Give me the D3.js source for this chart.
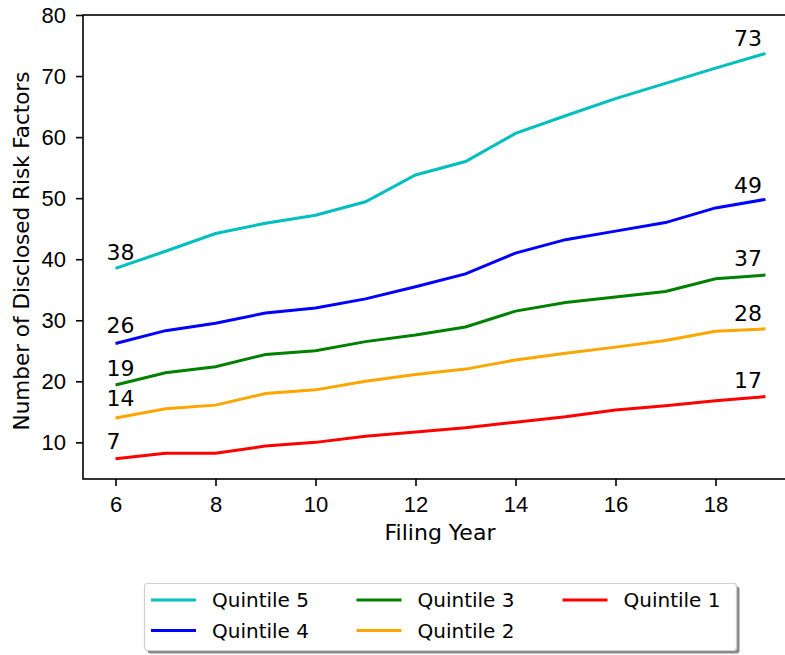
<!DOCTYPE html>
<html>
<head>
<meta charset="utf-8">
<script src="https://cdn.jsdelivr.net/npm/d3@7"></script>
<style>
  body { margin: 0; background: #fff; }
  svg { display: block; font-family: "DejaVu Sans", sans-serif; }
  .axis path, .axis line { stroke: #000; stroke-width: 1.6; }
  .axis text { fill: #000; }
</style>
</head>
<body>
<div id="chart"></div>
<script>
// Filing years on the x axis
const years = [6, 7, 8, 9, 10, 11, 12, 13, 14, 15, 16, 17, 18, 19];

// Average number of disclosed risk factors, per quintile
const quintile5 = [38.5, 41.3, 44.2, 45.9, 47.2, 49.4, 53.8, 56.0, 60.6, 63.5, 66.3, 68.8, 71.3, 73.7];
const quintile4 = [26.2, 28.3, 29.5, 31.2, 32.0, 33.5, 35.5, 37.6, 41.0, 43.2, 44.6, 46.0, 48.4, 49.8];
const quintile3 = [19.4, 21.4, 22.4, 24.4, 25.0, 26.5, 27.6, 28.9, 31.5, 32.9, 33.8, 34.7, 36.8, 37.4];
const quintile2 = [14.0, 15.5, 16.1, 18.0, 18.6, 20.0, 21.1, 22.0, 23.5, 24.6, 25.6, 26.7, 28.2, 28.6];
const quintile1 = [7.3, 8.2, 8.2, 9.4, 10.0, 11.0, 11.7, 12.4, 13.3, 14.2, 15.3, 16.0, 16.8, 17.5];

const seriesNames = ['Quintile 5', 'Quintile 4', 'Quintile 3', 'Quintile 2', 'Quintile 1'];
const seriesColors = ['#00bfbf', '#0000ff', '#008000', '#ffa500', '#ff0000'];
const startLabels = [38, 26, 19, 14, 7];
const endLabels = [73, 49, 37, 28, 17];

const xTicks = [6, 8, 10, 12, 14, 16, 18];
const yTicks = [10, 20, 30, 40, 50, 60, 70, 80];

const series = [quintile5, quintile4, quintile3, quintile2, quintile1].map((vals, i) => ({
  name: seriesNames[i],
  color: seriesColors[i],
  start: startLabels[i],
  end: endLabels[i],
  points: years.map((y, j) => ({ year: y, value: vals[j] }))
}));

const width = 785, height = 655;
const margin = { top: 15, left: 83 };
const plotW = 715, plotH = 464;
const fontSize = 22;

const svg = d3.select('#chart').append('svg')
    .attr('width', width)
    .attr('height', height);

const g = svg.append('g')
    .attr('transform', `translate(${margin.left},${margin.top})`);

const x = d3.scaleLinear().domain([5.35, 19.65]).range([0, plotW]);
const y = d3.scaleLinear().domain([4, 80]).range([plotH, 0]);

// axes
const xAxis = d3.axisBottom(x).tickValues(xTicks).tickSize(7).tickPadding(10).tickFormat(d3.format('d'));
const yAxis = d3.axisLeft(y).tickValues(yTicks).tickSize(7).tickPadding(10).tickFormat(d3.format('d'));

g.append('g').attr('class', 'axis')
    .attr('transform', `translate(0,${plotH})`)
    .call(xAxis)
    .call(s => s.select('.domain').remove())
    .selectAll('text').attr('font-size', fontSize);

g.append('g').attr('class', 'axis')
    .call(yAxis)
    .call(s => s.select('.domain').remove())
    .selectAll('text').attr('font-size', fontSize);

// frame
g.append('rect')
    .attr('x', 0).attr('y', 0)
    .attr('width', plotW).attr('height', plotH)
    .attr('fill', 'none')
    .attr('stroke', '#000')
    .attr('stroke-width', 1.6);

// lines
const line = d3.line().x(d => x(d.year)).y(d => y(d.value));

g.selectAll('.series')
    .data(series)
    .join('path')
    .attr('class', 'series')
    .attr('d', d => line(d.points))
    .attr('fill', 'none')
    .attr('stroke', d => d.color)
    .attr('stroke-width', 3);

// value labels at both ends
g.selectAll('.start-label')
    .data(series)
    .join('text')
    .attr('class', 'start-label')
    .attr('x', x(years[0]) - 9)
    .attr('y', d => y(d.start + 1.9))
    .attr('font-size', fontSize)
    .text(d => d.start);

g.selectAll('.end-label')
    .data(series)
    .join('text')
    .attr('class', 'end-label')
    .attr('x', x(18.65))
    .attr('y', d => y(d.end + 1.9))
    .attr('text-anchor', 'middle')
    .attr('font-size', fontSize)
    .text(d => d.end);

// axis titles
svg.append('text')
    .attr('x', margin.left + 357)
    .attr('y', 540)
    .attr('text-anchor', 'middle')
    .attr('font-size', fontSize)
    .text('Filing Year');

svg.append('text')
    .attr('transform', 'translate(29,251) rotate(-90)')
    .attr('text-anchor', 'middle')
    .attr('font-size', 21.5)
    .text('Number of Disclosed Risk Factors');

// legend, 3 columns filled column first
const legend = svg.append('g').attr('transform', 'translate(144.5,583.5)');
const legendW = 592, legendH = 67;
legend.append('rect')
    .attr('x', 3).attr('y', 3)
    .attr('width', legendW).attr('height', legendH)
    .attr('rx', 3)
    .attr('fill', '#8a8a8a');
legend.append('rect')
    .attr('x', 0).attr('y', 0)
    .attr('width', legendW).attr('height', legendH)
    .attr('rx', 3)
    .attr('fill', '#fff')
    .attr('stroke', '#d0d0d0')
    .attr('stroke-width', 1.2);

const colX = [6.5, 212, 418];
const rowY = [16.5, 47];
const item = legend.selectAll('.item')
    .data(series)
    .join('g')
    .attr('class', 'item')
    .attr('transform', (d, i) => `translate(${colX[Math.floor(i / 2)]},${rowY[i % 2]})`);

item.append('line')
    .attr('x1', 0).attr('x2', 45)
    .attr('stroke', d => d.color)
    .attr('stroke-width', 3);

item.append('text')
    .attr('x', 61)
    .attr('dy', '0.35em')
    .attr('font-size', 20)
    .text(d => d.name);
</script>
</body>
</html>
